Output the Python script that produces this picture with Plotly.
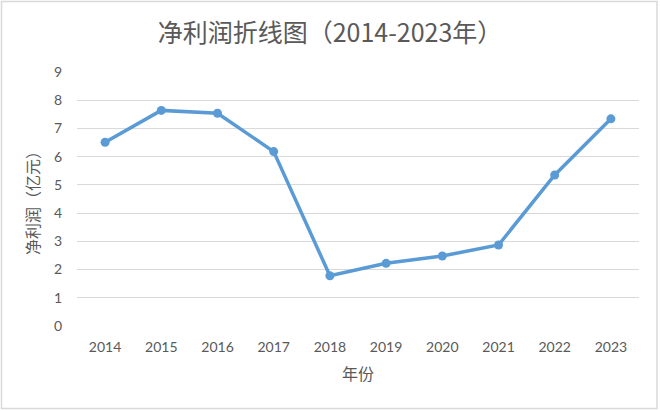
import plotly.graph_objects as go

# 年份和净利润（亿元）
years = ["2014", "2015", "2016", "2017", "2018", "2019", "2020", "2021", "2022", "2023"]
profit = [6.51, 7.64, 7.54, 6.18, 1.78, 2.22, 2.48, 2.87, 5.35, 7.34]
y_ticks = [0, 1, 2, 3, 4, 5, 6, 7, 8, 9]

W, H = 660, 411
ml, mr, mt, mb = 77, 21, 72, 85
pw, ph = W - ml - mr, H - mt - mb

font_main = "Lato, 'Noto Sans CJK SC', sans-serif"
font_cjk = "'Noto Sans CJK SC', sans-serif"
grey = "#595959"

fig = go.Figure()
fig.add_trace(go.Scatter(
    x=years, y=profit, mode="lines+markers",
    line=dict(color="#5B9BD5", width=3.5),
    marker=dict(color="#5B9BD5", size=9),
    hoverinfo="x+y",
))

fig.update_layout(
    width=W, height=H,
    margin=dict(l=ml, r=mr, t=mt, b=mb),
    paper_bgcolor="white", plot_bgcolor="white",
    showlegend=False,
    font=dict(family=font_main, color=grey),
    title=dict(text="净利润折线图（2014-2023年）", x=0.5, xanchor="center",
               y=1 - 33 / H, yanchor="middle",
               font=dict(family=font_cjk, size=25, color=grey)),
)

fig.update_xaxes(
    range=[-0.5, len(years) - 0.5],
    showgrid=False, zeroline=False, showline=False,
    tickfont=dict(size=14, color=grey), ticklabelstandoff=11,
    title=dict(text="年份", standoff=14, font=dict(family=font_cjk, size=16, color=grey)),
)
fig.update_yaxes(
    range=[0, 9], tickvals=y_ticks,
    showgrid=True, gridcolor="#D9D9D9", gridwidth=1, zeroline=False, showline=False,
    tickfont=dict(size=14, color=grey), ticklabelstandoff=14,
    title=dict(text="净利润（亿元）", standoff=10, font=dict(family=font_cjk, size=16, color=grey)),
)

# 外框
fig.add_shape(
    type="rect", xref="paper", yref="paper",
    x0=(1.5 - ml) / pw, x1=(657 - ml) / pw,
    y0=(mt + ph - 408.5) / ph, y1=(mt + ph - 1.5) / ph,
    line=dict(color="#D9D9D9", width=1.5), fillcolor="rgba(0,0,0,0)", layer="below",
)

# 去掉页面默认边距，让图正好占满窗口
fig.write_html("out.html", config={"displayModeBar": False},
               post_script="document.body.style.margin='0';document.body.style.overflow='hidden';")
